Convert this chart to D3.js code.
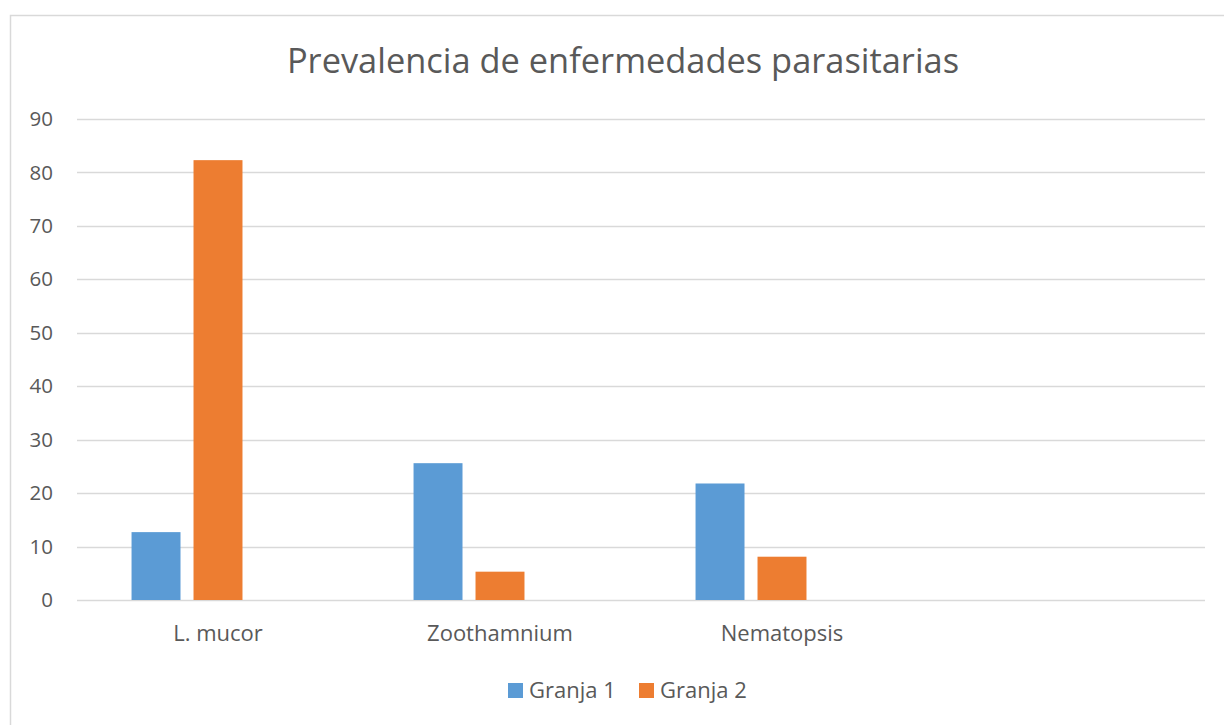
<!DOCTYPE html>
<html>
<head>
<meta charset="utf-8">
<script src="https://cdn.jsdelivr.net/npm/d3@7"></script>
<style>
  body { margin: 0; background: #fff; }
  text { font-family: "Open Sans", sans-serif; fill: #595959; }
</style>
</head>
<body>
<svg id="svg" width="1224" height="725"></svg>
<script>
// chart data
var categories = ["L. mucor", "Zoothamnium", "Nematopsis", ""];
var seriesNames = ["Granja 1", "Granja 2"];
var granja1 = [12.7, 25.6, 21.8, null];
var granja2 = [82.3, 5.3, 8.1, null];
var yTicks = [0, 10, 20, 30, 40, 50, 60, 70, 80, 90];
var colors = ["#5B9BD5", "#ED7D31"];
// the source sheet has a third, empty series slot next to the two farms
var seriesSlots = 3;

var svg = d3.select("#svg"),
    width = +svg.attr("width"),
    height = +svg.attr("height");

var margin = {top: 119, left: 77, right: 19, bottom: 125};

// outer chart frame (runs off the right and bottom edges)
svg.append("rect")
    .attr("x", 10.5).attr("y", 15.5)
    .attr("width", 1300).attr("height", 800)
    .attr("fill", "none")
    .attr("stroke", "#D9D9D9")
    .attr("stroke-width", 1.5);

svg.append("text")
    .attr("x", 623)
    .attr("y", 73)
    .attr("text-anchor", "middle")
    .style("font-size", "34.4px")
    .text("Prevalencia de enfermedades parasitarias");

var x0 = d3.scaleBand()
    .domain(d3.range(categories.length))
    .range([margin.left, width - margin.right])
    .padding(0);

var x1 = d3.scaleBand()
    .domain(d3.range(seriesSlots))
    .range([0, x0.bandwidth()])
    .paddingInner(0.21)
    .paddingOuter(0.88);

var y = d3.scaleLinear()
    .domain([0, 90])
    .range([height - margin.bottom, margin.top]);

// gridlines
svg.append("g")
    .selectAll("line")
    .data(yTicks)
    .enter().append("line")
      .attr("x1", margin.left)
      .attr("x2", width - margin.right)
      .attr("y1", function(d) { return Math.round(y(d)) + 0.5; })
      .attr("y2", function(d) { return Math.round(y(d)) + 0.5; })
      .attr("stroke", "#D9D9D9")
      .attr("stroke-width", 1.5);

// y axis labels
var yAxis = d3.axisLeft(y).tickValues(yTicks).tickSize(0).tickPadding(24);
svg.append("g")
    .attr("transform", "translate(" + margin.left + ",0)")
    .call(yAxis)
    .call(function(g) { g.select(".domain").remove(); })
    .selectAll("text")
      .style("font-size", "20.5px")
      .attr("fill", "#595959");

// category labels
var xAxis = d3.axisBottom(x0).tickFormat(function(i) { return categories[i]; }).tickSize(0).tickPadding(25);
svg.append("g")
    .attr("transform", "translate(0," + y(0) + ")")
    .call(xAxis)
    .call(function(g) { g.select(".domain").remove(); })
    .selectAll("text")
      .style("font-size", "22px")
      .attr("fill", "#595959");

// bars
var values = [granja1, granja2];
seriesNames.forEach(function(name, s) {
  svg.append("g")
      .selectAll("rect")
      .data(values[s].map(function(v, i) { return {i: i, v: v}; }).filter(function(d) { return d.v != null; }))
      .enter().append("rect")
        .attr("x", function(d) { return x0(d.i) + x1(s); })
        .attr("width", x1.bandwidth())
        .attr("y", function(d) { return y(d.v); })
        .attr("height", function(d) { return y(0) - y(d.v); })
        .attr("fill", colors[s]);
});

// legend
var legendX = [508, 639];
var legend = svg.append("g")
    .selectAll("g")
    .data(seriesNames)
    .enter().append("g")
      .attr("transform", function(d, i) { return "translate(" + legendX[i] + ",683)"; });

legend.append("rect")
    .attr("width", 15).attr("height", 15)
    .attr("fill", function(d, i) { return colors[i]; });

legend.append("text")
    .attr("x", 21)
    .attr("y", 15)
    .style("font-size", "22px")
    .text(function(d) { return d; });
</script>
</body>
</html>
